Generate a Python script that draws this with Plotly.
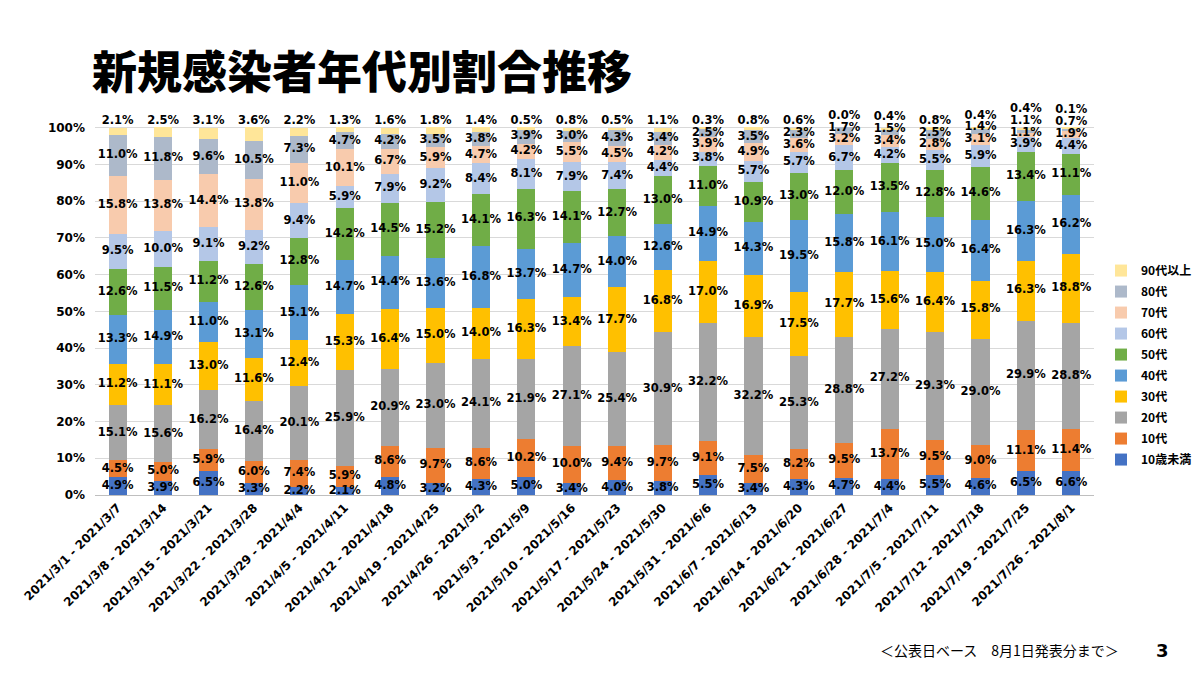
"""
新規感染者年代別割合推移 - 100% stacked bar chart
"""
import numpy as np
import plotly.graph_objects as go

weeks = [
    "2021/3/1 - 2021/3/7", "2021/3/8 - 2021/3/14", "2021/3/15 - 2021/3/21",
    "2021/3/22 - 2021/3/28", "2021/3/29 - 2021/4/4", "2021/4/5 - 2021/4/11",
    "2021/4/12 - 2021/4/18", "2021/4/19 - 2021/4/25", "2021/4/26 - 2021/5/2",
    "2021/5/3 - 2021/5/9", "2021/5/10 - 2021/5/16", "2021/5/17 - 2021/5/23",
    "2021/5/24 - 2021/5/30", "2021/5/31 - 2021/6/6", "2021/6/7 - 2021/6/13",
    "2021/6/14 - 2021/6/20", "2021/6/21 - 2021/6/27", "2021/6/28 - 2021/7/4",
    "2021/7/5 - 2021/7/11", "2021/7/12 - 2021/7/18", "2021/7/19 - 2021/7/25",
    "2021/7/26 - 2021/8/1",
]

# percentages per age group, one value per week
under10 = [4.9, 3.9, 6.5, 3.3, 2.2, 2.1, 4.8, 3.2, 4.3, 5.0, 3.4, 4.0, 3.8, 5.5, 3.4, 4.3, 4.7, 4.4, 5.5, 4.6, 6.5, 6.6]
age10s = [4.5, 5.0, 5.9, 6.0, 7.4, 5.9, 8.6, 9.7, 8.6, 10.2, 10.0, 9.4, 9.7, 9.1, 7.5, 8.2, 9.5, 13.7, 9.5, 9.0, 11.1, 11.4]
age20s = [15.1, 15.6, 16.2, 16.4, 20.1, 25.9, 20.9, 23.0, 24.1, 21.9, 27.1, 25.4, 30.9, 32.2, 32.2, 25.3, 28.8, 27.2, 29.3, 29.0, 29.9, 28.8]
age30s = [11.2, 11.1, 13.0, 11.6, 12.4, 15.3, 16.4, 15.0, 14.0, 16.3, 13.4, 17.7, 16.8, 17.0, 16.9, 17.5, 17.7, 15.6, 16.4, 15.8, 16.3, 18.8]
age40s = [13.3, 14.9, 11.0, 13.1, 15.1, 14.7, 14.4, 13.6, 16.8, 13.7, 14.7, 14.0, 12.6, 14.9, 14.3, 19.5, 15.8, 16.1, 15.0, 16.4, 16.3, 16.2]
age50s = [12.6, 11.5, 11.2, 12.6, 12.8, 14.2, 14.5, 15.2, 14.1, 16.3, 14.1, 12.7, 13.0, 11.0, 10.9, 13.0, 12.0, 13.5, 12.8, 14.6, 13.4, 11.1]
age60s = [9.5, 10.0, 9.1, 9.2, 9.4, 5.9, 7.9, 9.2, 8.4, 8.1, 7.9, 7.4, 4.4, 3.8, 5.7, 5.7, 6.7, 4.2, 5.5, 5.9, 3.9, 4.4]
age70s = [15.8, 13.8, 14.4, 13.8, 11.0, 10.1, 6.7, 5.9, 4.7, 4.2, 5.5, 4.5, 4.2, 3.9, 4.9, 3.6, 3.2, 3.4, 2.8, 3.1, 1.1, 1.9]
age80s = [11.0, 11.8, 9.6, 10.5, 7.3, 4.7, 4.2, 3.5, 3.8, 3.9, 3.0, 4.3, 3.4, 2.5, 3.5, 2.3, 1.7, 1.5, 2.5, 1.4, 1.1, 0.7]
age90plus = [2.1, 2.5, 3.1, 3.6, 2.2, 1.3, 1.6, 1.8, 1.4, 0.5, 0.8, 0.5, 1.1, 0.3, 0.8, 0.6, 0.0, 0.4, 0.8, 0.4, 0.4, 0.1]

groups = ["10歳未満", "10代", "20代", "30代", "40代", "50代", "60代", "70代", "80代", "90代以上"]
series = [under10, age10s, age20s, age30s, age40s, age50s, age60s, age70s, age80s, age90plus]
colors = ["#4472C4", "#ED7D31", "#A5A5A5", "#FFC000", "#5B9BD5",
          "#70AD47", "#B4C7E7", "#F8CBAD", "#ADB9CA", "#FFE699"]
y_ticks = list(range(0, 101, 10))

fig = go.Figure()

for k, (name, vals, col) in enumerate(zip(groups, series, colors)):
    fig.add_trace(go.Bar(
        x=weeks, y=vals, name=name, legendgroup=name,
        legendrank=100 - k,  # 90代以上 listed first, like the original
        marker=dict(color=col, line=dict(width=0)),
        hoverinfo="x+y+name",
    ))

# label positions: segment centres, nudged upward when they would collide
vals = np.array(series)
tops = np.cumsum(vals, axis=0)
centres = tops - vals / 2
gap = 3.2           # minimum spacing between labels (in % units)
top_label = 101.9   # 90代以上 label sits just above the bar
pos = centres.copy()
for j in range(vals.shape[1]):
    for i in range(1, vals.shape[0]):
        want = top_label if i == vals.shape[0] - 1 else centres[i, j]
        pos[i, j] = max(want, pos[i - 1, j] + gap)

lab_x, lab_y, lab_t = [], [], []
for i in range(vals.shape[0]):
    for j in range(vals.shape[1]):
        lab_x.append(weeks[j])
        lab_y.append(pos[i, j])
        lab_t.append(f"{vals[i, j]:.1f}%")

fig.add_trace(go.Scatter(
    x=lab_x, y=lab_y, text=lab_t, mode="text",
    textfont=dict(family="DejaVu Sans", size=11.5, color="#000000", weight="bold"),
    showlegend=False, hoverinfo="skip", cliponaxis=False,
))

fig.update_layout(
    barmode="stack",
    bargap=0.6,
    width=1200, height=675,
    margin=dict(l=87, r=114, t=94, b=188, autoexpand=False),
    paper_bgcolor="white",
    plot_bgcolor="white",
    font=dict(family="DejaVu Sans, Noto Sans CJK JP", color="#000000"),
    legend=dict(
        x=1.007, y=0.608, xanchor="left", yanchor="top",
        traceorder="grouped", tracegroupgap=2,
        font=dict(family="Noto Sans CJK JP", size=12, weight="bold"),
        itemwidth=30,
    ),
    showlegend=True,
)

fig.update_xaxes(
    type="category",
    range=[-0.5, len(weeks) - 0.5],
    tickangle=-45,
    tickfont=dict(family="DejaVu Sans", size=12, weight="bold"),
    showline=True, linecolor="#BFBFBF", linewidth=1,
    ticks="", showgrid=False,
)
# range runs a little past 100% so the top labels have room
fig.update_yaxes(
    range=[0, 107], tickvals=y_ticks, ticktext=[f"{v}%" for v in y_ticks],
    tickfont=dict(family="DejaVu Sans", size=12, weight="bold"),
    showgrid=True, gridcolor="#D9D9D9", gridwidth=1,
    zeroline=False, ticks="", ticklabelstandoff=9,
)

# title, footer and page number
fig.add_annotation(
    text="新規感染者年代別割合推移", xref="paper", yref="paper",
    x=-0.005, y=1.0, yshift=33, xanchor="left", yanchor="middle",
    showarrow=False,
    font=dict(family="Noto Sans CJK JP", size=45, weight=900, color="#000000"),
)
fig.add_annotation(
    text="＜公表日ベース　8月1日発表分まで＞", xref="paper", yref="paper",
    x=1.027, y=0, yshift=-155, xanchor="right", yanchor="middle",
    showarrow=False,
    font=dict(family="Noto Sans CJK JP", size=14, color="#000000"),
)
fig.add_annotation(
    text="<b>3</b>", xref="paper", yref="paper",
    x=1.069, y=0, yshift=-155, xanchor="center", yanchor="middle",
    showarrow=False,
    font=dict(family="DejaVu Sans", size=18, color="#000000"),
)

fig.write_html("out.html")
